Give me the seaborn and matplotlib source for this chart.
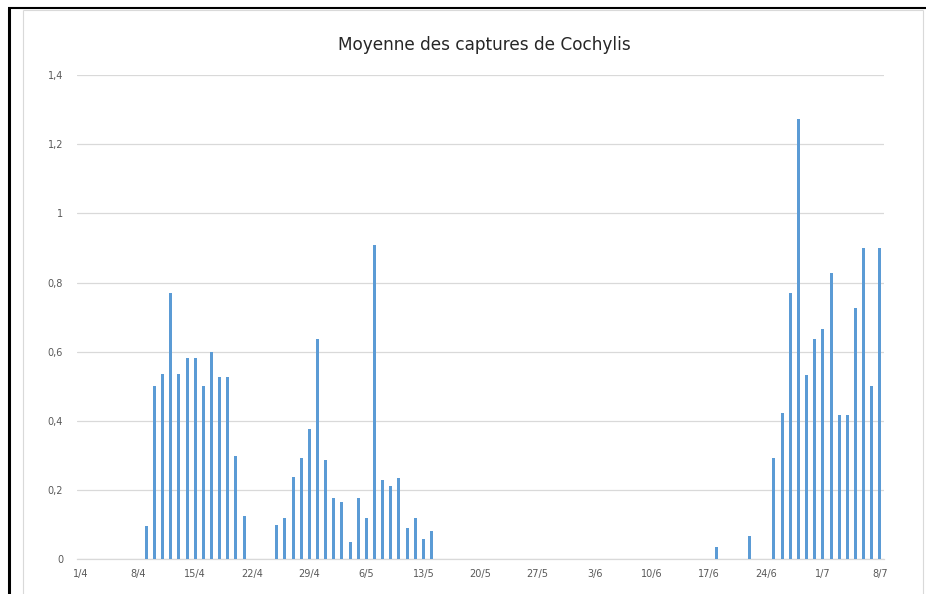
import matplotlib
matplotlib.use("Agg")
import matplotlib.pyplot as plt
from matplotlib.lines import Line2D
import seaborn as sns
import pandas as pd
import numpy as np

# ---- data ----
dates = ["9/4", "10/4", "11/4", "12/4", "13/4", "14/4", "15/4", "16/4", "17/4", "18/4",
         "19/4", "20/4", "21/4",
         "25/4", "26/4", "27/4", "28/4", "29/4", "30/4", "1/5", "2/5", "3/5", "4/5",
         "5/5", "6/5", "7/5", "8/5", "9/5", "10/5", "11/5", "12/5", "13/5", "14/5",
         "18/6", "22/6",
         "25/6", "26/6", "27/6", "28/6", "29/6", "30/6", "1/7", "2/7", "3/7", "4/7",
         "5/7", "6/7", "7/7", "8/7"]
captures = [0.095, 0.5, 0.536, 0.77, 0.536, 0.583, 0.583, 0.5, 0.6, 0.528,
            0.528, 0.3, 0.124,
            0.1, 0.118, 0.238, 0.294, 0.377, 0.636, 0.286, 0.176, 0.166, 0.05,
            0.176, 0.118, 0.91, 0.228, 0.211, 0.236, 0.091, 0.118, 0.058, 0.083,
            0.036, 0.067,
            0.292, 0.422, 0.77, 1.272, 0.532, 0.637, 0.667, 0.827, 0.416, 0.416,
            0.727, 0.9, 0.5, 0.9]
tick_labels = ["1/4", "8/4", "15/4", "22/4", "29/4", "6/5", "13/5", "20/5", "27/5",
               "3/6", "10/6", "17/6", "24/6", "1/7", "8/7"]
y_ticks = [0, 0.2, 0.4, 0.6, 0.8, 1.0, 1.2, 1.4]
y_tick_labels = ["0", "0,2", "0,4", "0,6", "0,8", "1", "1,2", "1,4"]
title = "Moyenne des captures de Cochylis"
year = 2020

start = pd.Timestamp(year=year, month=4, day=1)
def day_index(s):
    d, m = s.split("/")
    return (pd.Timestamp(year=year, month=int(m), day=int(d)) - start).days

df = pd.DataFrame({"day": [day_index(d) for d in dates], "val": captures})
tick_pos = [day_index(t) for t in tick_labels]

sns.set_theme(style="white")
plt.rcParams["font.family"] = ["DejaVu Sans"]

W, H = 926, 594
fig = plt.figure(figsize=(W / 100, H / 100), dpi=100)
fig.patch.set_facecolor("white")
ax = fig.add_axes([77 / W, 1 - 559.3 / H, (884 - 77) / W, (559.3 - 75) / H])

sns.barplot(data=df, x="day", y="val", native_scale=True, width=0.37,
            color="#5B9BD5", saturation=1, linewidth=0, ax=ax, zorder=3)

ax.set_xlim(-0.5, 98.5)
ax.set_ylim(0, 1.4)
ax.set_yticks(y_ticks)
ax.set_yticklabels(y_tick_labels)
ax.set_xticks(tick_pos)
ax.set_xticklabels(tick_labels)
ax.set_xlabel("")
ax.set_ylabel("")
ax.grid(axis="y", color="#D9D9D9", linewidth=0.9, zorder=0)
ax.grid(axis="x", visible=False)
for s in ["top", "right", "left"]:
    ax.spines[s].set_visible(False)
ax.spines["bottom"].set_color("#D9D9D9")
ax.spines["bottom"].set_linewidth(0.9)
ax.tick_params(axis="both", length=0, labelsize=7, labelcolor="#595959")
ax.tick_params(axis="y", pad=10)
ax.tick_params(axis="x", pad=7)

fig.text(484.5 / W, 1 - 45 / H, title, fontsize=12.2, color="#262626",
         ha="center", va="center")

# chart frame (light gray) and screenshot frame (black)
def fig_line(x0, y0, x1, y1, color, lw):
    fig.add_artist(Line2D([x0 / W, x1 / W], [1 - y0 / H, 1 - y1 / H],
                          transform=fig.transFigure, color=color, linewidth=lw,
                          solid_capstyle="butt"))

fig_line(23.3, 10, 23.3, H, "#D9D9D9", 0.8)
fig_line(23.3, 10, 923, 10, "#D9D9D9", 0.8)
fig_line(923, 10, 923, H, "#D9D9D9", 0.8)
fig_line(7.5, 8.3, W, 8.3, "black", 1.5)
fig_line(9, 7.5, 9, H, "black", 2.2)

fig.savefig("out.png", dpi=100)
